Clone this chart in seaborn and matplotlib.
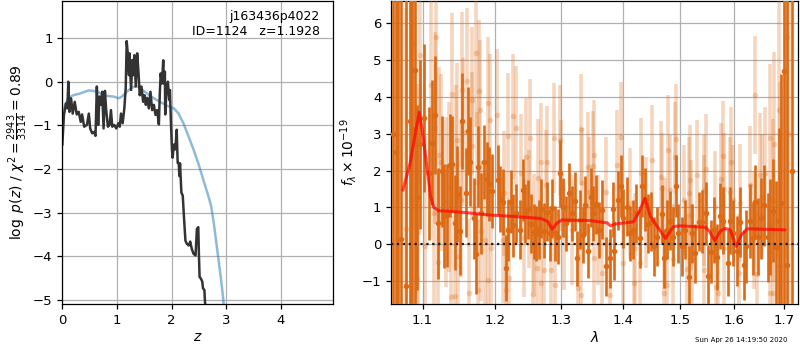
import matplotlib
matplotlib.use("Agg")
import matplotlib.pyplot as plt
import matplotlib.ticker as mticker
import seaborn as sns
import pandas as pd

# ---- redshift fit panel ----
pz_z = [0.0, 0.006, 0.03, 0.067, 0.092, 0.11, 0.13, 0.16, 0.19, 0.227, 0.264, 0.30, 0.337, 0.362,
        0.40, 0.45, 0.485, 0.51, 0.546, 0.583, 0.607, 0.632, 0.656, 0.68, 0.705, 0.73, 0.755, 0.78,
        0.80, 0.834, 0.865, 0.89, 0.914, 0.95, 0.988, 1.025, 1.05, 1.074, 1.104, 1.135, 1.16, 1.178,
        1.20, 1.22, 1.23, 1.258, 1.282, 1.30, 1.32, 1.344, 1.37, 1.393, 1.417, 1.448, 1.479, 1.503,
        1.528, 1.552, 1.583, 1.613, 1.644, 1.675, 1.705, 1.736, 1.767, 1.785, 1.80, 1.822, 1.847,
        1.858, 1.877, 1.883, 1.907, 1.932, 1.957, 1.969, 1.988, 2.006, 2.018, 2.043, 2.068, 2.093,
        2.111, 2.13, 2.142, 2.154, 2.179, 2.204, 2.228, 2.253, 2.278, 2.315, 2.34, 2.37, 2.401,
        2.438, 2.463, 2.488, 2.50, 2.512, 2.537, 2.562, 2.574, 2.60, 2.611, 2.623]
pz_logp = [-1.45, -1.3, -0.76, -0.5, -0.61, 0.0, -0.69, -0.38, -0.73, -0.46, -0.75, -0.69, -0.92, -0.75,
           -1.03, -0.99, -0.73, -1.07, -1.18, -1.15, -1.24, -0.11, -0.99, -0.34, -0.53, -0.23, -1.07, -0.21,
           -0.61, -1.03, -0.99, -0.65, -1.03, -0.99, -1.07, -0.95, -1.03, -0.73, -0.95, -0.61, -0.15, 0.93,
           0.61, 0.15, 0.65, -0.19, 0.50, 0.15, 0.61, -0.11, 0.65, 0.23, -0.31, -0.11, -0.46, -0.31,
           -0.53, -0.37, -0.61, -0.23, -0.65, -0.53, -0.76, -0.65, -0.98, -0.23, 0.19, -0.04, 0.49,
           -0.04, 0.23, -0.75, -0.19, 0.0, -0.42, -0.19, -0.95, -1.55, -1.74, -1.44, -1.55, -1.10,
           -1.86, -1.86, -2.16, -1.87, -2.54, -2.61, -3.14, -3.64, -3.71, -3.75, -3.66, -3.83, -3.94,
           -3.98, -3.37, -3.33, -3.98, -4.47, -4.51, -4.58, -4.73, -4.77, -5.04, -5.2]

chi_z = [0.0, 0.05, 0.11, 0.20, 0.325, 0.48, 0.57, 0.66, 0.755, 0.847, 0.94, 1.03, 1.09, 1.18,
         1.276, 1.356, 1.43, 1.55, 1.675, 1.80, 1.92, 2.04, 2.123, 2.216, 2.309, 2.40, 2.494,
         2.586, 2.68, 2.722, 2.77, 2.833, 2.895, 2.938, 2.96]
chi_val = [-0.8, -0.53, -0.38, -0.31, -0.27, -0.2, -0.21, -0.24, -0.31, -0.33, -0.34, -0.38, -0.34, -0.23,
           -0.13, -0.1, -0.15, -0.27, -0.38, -0.47, -0.55, -0.61, -0.72, -0.95, -1.25, -1.55, -1.89,
           -2.27, -2.65, -2.84, -3.22, -3.83, -4.43, -4.89, -5.2]

# ---- spectrum panel ----
dark_wave = [1.0615, 1.0650, 1.0685, 1.0717, 1.0783, 1.0832, 1.0863, 1.0903, 1.0930, 1.0965,
             1.1019, 1.1079, 1.1124, 1.1171, 1.1203, 1.1254, 1.1286, 1.1332, 1.1365, 1.1401,
             1.1434, 1.1470, 1.1503, 1.1539, 1.1586, 1.1622, 1.1646, 1.1701, 1.1733, 1.1761,
             1.1808, 1.1849, 1.1885, 1.1918, 1.1960,
             1.2041, 1.2081, 1.2122, 1.2156, 1.2191, 1.2232, 1.2272, 1.2317, 1.2371, 1.2408,
             1.2447, 1.2483, 1.2532, 1.2573, 1.2608, 1.2657, 1.2693, 1.2732, 1.2784, 1.2823,
             1.2863, 1.2908, 1.2949, 1.2983,
             1.3026, 1.3080, 1.3117, 1.3166, 1.3209, 1.3253, 1.3296, 1.3339, 1.3377, 1.3425,
             1.3469, 1.3513, 1.3551, 1.3604, 1.3660, 1.3713, 1.3783, 1.3832, 1.3860, 1.3913, 1.3968,
             1.4010, 1.4070, 1.4115, 1.4174, 1.4232, 1.4290, 1.4331, 1.4371, 1.4429, 1.4476,
             1.4534, 1.4593, 1.4668, 1.4720, 1.4767, 1.4813, 1.4872, 1.4917, 1.4970,
             1.5032, 1.5093, 1.5155, 1.5218, 1.5280, 1.5341, 1.5405, 1.5466, 1.5509, 1.5573,
             1.5634, 1.5685, 1.5733, 1.5797, 1.5882, 1.5933, 1.5994,
             1.6062, 1.6127, 1.6193, 1.6246, 1.6312, 1.6379, 1.6411, 1.6478, 1.6538, 1.6603,
             1.6669, 1.6723, 1.6776, 1.6842, 1.6907, 1.6941, 1.7006, 1.7066, 1.7158]
dark_flux = [3.0, 2.5, 7.0, 0.14, -1.13, 3.34, 3.13, 4.73, 1.27, 2.71,
             3.43, 1.92, 2.76, 3.50, 0.57, 1.98, 0.77, 0.79, 2.14, 2.17,
             0.59, 1.36, 0.37, 3.34, 1.40, 3.07, 2.24, 0.70, -0.26, 2.10,
             0.84, 2.24, 1.78, 1.63, 1.45,
             1.74, 1.22, 1.15, -0.65, 0.39, 1.16, 0.51, 0.84, 0.39, 1.47,
             0.84, 0.95, 0.55, 0.34, 0.30, 0.41, 0.97, 0.37, 0.88, 0.30,
             0.98, 0.30, 0.21, 1.92,
             1.00, 0.57, 1.40, 0.84, 1.17, -0.38, 0.66, 0.25, 1.06, -0.17,
             1.27, 0.84, 1.09, 0.39, 0.93, -0.60, -0.38, 0.95, -0.17, 1.20, 1.58,
             0.70, 1.02, 0.30, 0.39, 0.84, 0.16, 1.58, 1.22, 0.55, 0.61,
             -0.06, 0.21, 0.82, -0.38, 0.39, 0.64, 0.21, 1.58, 0.30,
             -0.06, 0.39, -0.89, 0.30, -0.24, 0.61, 0.61, 0.84, -0.87, -0.20,
             0.39, -0.35, 0.77, 0.64, -0.51, 0.64, 0.30,
             -0.17, 0.61, -0.56, -0.06, 0.64, 0.16, 1.15, 0.21, 0.70, 1.06,
             0.19, 0.48, 0.91, -0.08, 0.64, 1.13, 4.69, -0.56, 2.0]
dark_err = [10, 10, 10, 9, 9, 8, 8, 7, 2.5, 2.3,
            2.0, 1.8, 1.7, 1.6, 1.5, 1.5, 1.4, 1.4, 1.4, 1.3,
            1.3, 1.3, 1.2, 1.3, 1.2, 1.2, 1.2, 1.1, 1.1, 1.1,
            1.1, 1.0, 1.0, 1.0, 1.0,
            0.95, 0.9, 0.9, 0.9, 0.85, 0.85, 0.85, 0.8, 0.8, 0.85,
            0.8, 0.8, 0.8, 0.75, 0.75, 0.8, 0.8, 0.75, 0.8, 0.75,
            0.8, 0.75, 0.75, 0.9,
            0.8, 0.75, 0.8, 0.75, 0.8, 0.75, 0.8, 0.75, 0.8, 0.75,
            0.8, 0.75, 0.8, 0.75, 0.8, 0.8, 0.8, 0.75, 0.8, 0.8, 0.85,
            0.8, 0.8, 0.75, 0.8, 0.8, 0.8, 0.85, 0.85, 0.8, 0.8,
            0.8, 0.8, 0.8, 0.8, 0.8, 0.8, 0.8, 0.85, 0.8,
            0.8, 0.8, 0.85, 0.8, 0.8, 0.8, 0.85, 0.85, 0.85, 0.85,
            0.9, 0.9, 0.9, 0.9, 0.9, 0.9, 0.9,
            0.95, 0.95, 0.95, 1.0, 1.0, 1.0, 1.0, 1.05, 1.1, 1.1,
            1.2, 1.3, 1.4, 1.8, 2.5, 3.5, 8, 10, 10]

light_wave = [1.0787, 1.0854, 1.0876, 1.0920, 1.0943, 1.0960, 1.1033, 1.1116, 1.1148, 1.1171,
              1.1180, 1.1207, 1.1217, 1.1241, 1.1310, 1.1355, 1.1379, 1.1401, 1.1434, 1.1448,
              1.1470, 1.1480, 1.1517, 1.1531, 1.1549, 1.1608, 1.1632, 1.1669, 1.1678, 1.1733,
              1.1747, 1.1761, 1.1770, 1.1794, 1.1800, 1.1863, 1.1899, 1.1905,
              1.1936, 1.1942, 1.2032, 1.2122, 1.2131, 1.2156, 1.2191, 1.2206, 1.2272, 1.2306,
              1.2381, 1.2431, 1.2457, 1.2506, 1.2521, 1.2557, 1.2573, 1.2622, 1.2642, 1.2683,
              1.2690, 1.2732, 1.2758, 1.2773, 1.2833, 1.2893, 1.2908, 1.2983, 1.2990,
              1.3036, 1.3172, 1.3263, 1.3307, 1.3312, 1.3335, 1.3417, 1.3443, 1.3498, 1.3524,
              1.3530, 1.3580, 1.3660, 1.3713, 1.3783, 1.3903, 1.3968,
              1.4000, 1.4127, 1.4185, 1.4215, 1.4290, 1.4302, 1.4389, 1.4506, 1.4651, 1.4680,
              1.4708, 1.4738, 1.4767, 1.4777, 1.4824, 1.4872, 1.4912, 1.4929,
              1.5062, 1.5125, 1.5155, 1.5186, 1.5192, 1.5224, 1.5304, 1.5429, 1.5440, 1.5446,
              1.5471, 1.5639, 1.5657, 1.5700, 1.5750, 1.5801, 1.5807, 1.5815, 1.5924, 1.5950,
              1.5987, 1.6093, 1.6127, 1.6312, 1.6391, 1.6411, 1.6459, 1.6524, 1.6558, 1.6623,
              1.6709, 1.6715, 1.6776, 1.6782, 1.6802, 1.6888, 1.6921, 1.7054, 1.7100]
light_flux = [0.41, 1.20, 5.43, -0.95, 0.34, 5.12, -0.06, 4.33, 0.84, 3.16,
              5.63, -0.47, 2.41, 2.23, 1.15, 1.56, -1.44, 4.08, -1.41, 2.13,
              2.82, -0.32, 1.20, 4.19, 3.05, 4.42, -1.32, 2.66, 3.90, 5.18,
              1.69, -1.25, 4.17, 3.63, 0.36, 0.12, 3.83, -0.98,
              3.36, -0.11, 3.50, 0.12, 1.38, -1.23, 2.94, -0.92, 3.47, 3.14,
              1.92, 0.16, 2.37, 0.95, 2.88, -1.35, 0.30, -0.65, 1.80, 2.24,
              -1.04, -0.71, 1.60, 2.24, -0.71, 2.88, -1.10, 2.82, 1.87,
              0.25, 0.39, -1.19, 3.12, -1.37, 1.65, 2.10, 1.42, 2.12, -0.38,
              2.41, 0.39, -0.78, 1.42, -1.37, 2.14, 2.91,
              -0.51, 1.11, -1.05, -0.11, -0.51, 1.92, 0.86, 2.28, 1.83, 1.53,
              -1.32, 0.30, -1.10, 2.55, 1.47, -0.41, 2.37, 2.86,
              1.20, -0.68, 1.40, 1.74, 0.79, -0.41, 1.87, -0.71, 1.47, 0.91,
              2.04, 1.02, -1.16, -1.31, 1.78, 2.39, -0.11, 1.51, 1.42, 2.23,
              1.20, -0.77, 1.13, 1.60, 0.39, 4.04, -0.80, 1.87, 1.29, 1.92,
              2.88, -1.32, 1.20, -1.32, 2.71, 3.63, -0.60, 5.63, 3.00]
light_err = [6, 6, 5, 4, 4, 3.5, 3, 2.8, 2.6, 2.6,
             2.6, 2.4, 2.4, 2.4, 2.3, 2.3, 2.2, 2.2, 2.2, 2.2,
             2.1, 2.1, 2.1, 2.1, 2.0, 2.0, 2.0, 2.0, 2.0, 2.0,
             1.9, 1.9, 1.9, 1.9, 1.9, 1.9, 1.8, 1.8,
             1.8, 1.8, 1.8, 1.7, 1.7, 1.7, 1.7, 1.7, 1.7, 1.7,
             1.6, 1.6, 1.6, 1.6, 1.6, 1.6, 1.6, 1.6, 1.6, 1.6,
             1.6, 1.6, 1.5, 1.5, 1.5, 1.5, 1.5, 1.5, 1.5,
             1.5, 1.5, 1.5, 1.5, 1.5, 1.5, 1.5, 1.5, 1.5, 1.5,
             1.5, 1.5, 1.5, 1.5, 1.5, 1.5, 1.5,
             1.5, 1.5, 1.5, 1.5, 1.5, 1.5, 1.5, 1.5, 1.5, 1.5,
             1.5, 1.5, 1.5, 1.5, 1.5, 1.5, 1.5, 1.5,
             1.5, 1.5, 1.5, 1.5, 1.5, 1.5, 1.5, 1.5, 1.5, 1.5,
             1.5, 1.5, 1.5, 1.5, 1.5, 1.5, 1.5, 1.5, 1.5, 1.5,
             1.5, 1.6, 1.6, 1.6, 1.6, 1.6, 1.7, 1.7, 1.7, 1.8,
             2.0, 2.0, 2.2, 2.2, 2.5, 4.0, 5.0, 6.0, 8.0]

model_wave = [1.0743, 1.0836, 1.0903, 1.0956, 1.0996, 1.1069, 1.1106, 1.1148, 1.1217, 1.1521,
              1.1950, 1.2232, 1.2683, 1.2788, 1.2859, 1.2923, 1.3010, 1.3469, 1.3740, 1.3793,
              1.3875, 1.4180, 1.4267, 1.4377, 1.4476, 1.4593, 1.4738, 1.4883, 1.5000, 1.5466,
              1.5541, 1.5640, 1.5746, 1.5839, 1.5933, 1.6048, 1.6147, 1.6260, 1.7020]
model_flux = [1.47, 2.2, 3.0, 3.58, 3.1, 1.92, 1.3, 1.0, 0.91, 0.87,
              0.79, 0.76, 0.70, 0.62, 0.41, 0.56, 0.66, 0.64, 0.58, 0.50,
              0.55, 0.61, 0.85, 1.24, 0.75, 0.48, 0.16, 0.48, 0.50, 0.46,
              0.35, 0.10, 0.36, 0.43, 0.39, -0.06, 0.25, 0.42, 0.39]

wave_ticks = [1.1, 1.2, 1.3, 1.4, 1.5, 1.6, 1.7]

sns.set_theme(style="ticks")
plt.rcParams['font.family'] = ['DejaVu Sans']
plt.rcParams.update({
    'font.size': 9.5, 'xtick.labelsize': 9.5, 'ytick.labelsize': 9.5, 'axes.labelsize': 10,
    'axes.edgecolor': 'black', 'axes.linewidth': 0.9, 'text.color': 'black',
    'axes.labelcolor': 'black', 'xtick.color': 'black', 'ytick.color': 'black',
    'xtick.major.width': 0.9, 'ytick.major.width': 0.9,
    'xtick.major.size': 3.5, 'ytick.major.size': 3.5,
})

fig = plt.figure(figsize=(8, 3.5), dpi=100)
ax1 = fig.add_axes([0.0779, 0.1314, 0.3388, 0.866])
ax2 = fig.add_axes([0.4888, 0.1314, 0.5088, 0.866])

pz = pd.DataFrame({'z': pz_z, 'logp': pz_logp})
chi = pd.DataFrame({'z': chi_z, 'chi': chi_val})
sns.lineplot(data=chi, x='z', y='chi', ax=ax1, color='#1f77b4', alpha=0.5, lw=1.8, sort=False, estimator=None)
sns.lineplot(data=pz, x='z', y='logp', ax=ax1, color='0.2', lw=1.8, sort=False, estimator=None)
ax1.set_xlim(0, 4.96)
ax1.set_ylim(-5.09, 1.85)
ax1.set_xticks([0, 1, 2, 3, 4])
ax1.set_yticks([-5, -4, -3, -2, -1, 0, 1])
ax1.grid(True, color='#b0b0b0', lw=0.9)
ax1.set_xlabel('$z$', labelpad=2)
ax1.set_ylabel(r'$\log\ p(z)$ / $\chi^2=\frac{2943}{3314}=0.89$', labelpad=2)
ax1.text(0.95, 0.97, 'j163436p4022\nID=1124   z=1.1928', transform=ax1.transAxes,
         ha='right', va='top', fontsize=9, linespacing=1.15)

dark_c = '#dc6a14'
ax2.errorbar(dark_wave, dark_flux, yerr=dark_err, fmt='o', color=dark_c, ms=4,
             elinewidth=1.9, capsize=0, mew=0, zorder=3)
ax2.errorbar(light_wave, light_flux, yerr=light_err, fmt='o', color=dark_c, ms=4,
             elinewidth=2.6, capsize=0, mew=0, alpha=0.28, zorder=4)
model = pd.DataFrame({'wave': model_wave, 'flux': model_flux})
sns.lineplot(data=model, x='wave', y='flux', ax=ax2, color='red', alpha=0.7, lw=2.2,
             sort=False, estimator=None, zorder=5)
ax2.axhline(0, color='k', ls=':', lw=1.6, zorder=6)
ax2.set_xscale('log')
ax2.set_xlim(1.059, 1.729)
ax2.set_ylim(-1.62, 6.6)
ax2.xaxis.set_major_locator(mticker.FixedLocator(wave_ticks))
ax2.xaxis.set_major_formatter(mticker.FixedFormatter([str(t) for t in wave_ticks]))
ax2.xaxis.set_minor_locator(mticker.NullLocator())
ax2.set_yticks([-1, 0, 1, 2, 3, 4, 5, 6])
ax2.grid(True, color='#b0b0b0', lw=0.9)
ax2.set_axisbelow(True)
ax2.set_xlabel(r'$\lambda$', labelpad=2)
ax2.set_ylabel(r'$f_\lambda\times10^{-19}$', labelpad=2)

fig.text(0.984, 0.028, 'Sun Apr 26 14:19:50 2020', ha='right', va='center', fontsize=5)

fig.savefig('out.png', dpi=100)
